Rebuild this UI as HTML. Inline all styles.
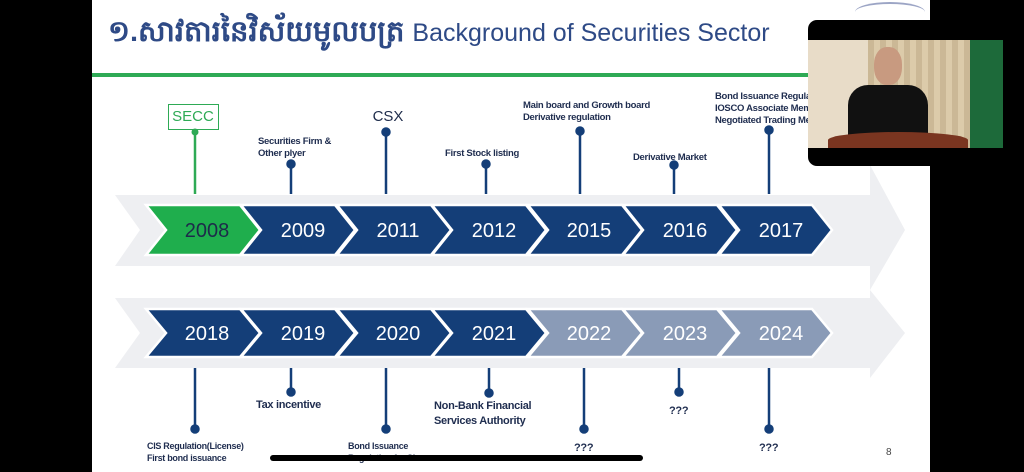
<!DOCTYPE html>
<html><head><meta charset="utf-8"><style>
body{margin:0;width:1024px;height:472px;background:#000;position:relative;overflow:hidden;font-family:"Liberation Sans",sans-serif}
.a{position:absolute}
.t{position:absolute;font-family:"Liberation Sans",sans-serif;font-weight:bold;font-size:9.5px;color:#1f2d4f;line-height:12px;white-space:nowrap;letter-spacing:-0.3px}
</style></head><body>
<div class="a" style="left:92px;top:0;width:838px;height:472px;background:#fff"></div>
<div class="a" style="left:108px;top:14px;font-size:29px;font-weight:bold;color:#2e4a86;white-space:nowrap;font-family:'Liberation Sans','DejaVu Sans',sans-serif">១.សាវតារនៃវិស័យមូលបត្រ <span style="font-size:25px;font-weight:normal">Background of Securities Sector</span></div>
<div class="a" style="left:92px;top:73px;width:740px;height:4px;background:#2eaa55"></div>
<svg class="a" style="left:0;top:0" width="1024" height="472">
<polygon points="115,195 870,195 870,165 905,230 870,290 870,266 115,266 140,230" fill="#eeeff2"/>
<polygon points="115,298 870,298 870,290 905,333 870,378 870,368 115,368 140,333" fill="#eeeff2"/>
<g font-family="Liberation Sans" font-size="20" fill="#fff" text-anchor="middle" stroke-linejoin="miter">
<g stroke="#fff" stroke-width="2.5">
<polygon points="146,205 240,205 260,230 240,255 146,255 166,230" fill="#1fae4d"/>
<polygon points="241,205 335,205 355,230 335,255 241,255 261,230" fill="#143e78"/>
<polygon points="337,205 431,205 451,230 431,255 337,255 357,230" fill="#143e78"/>
<polygon points="432,205 526,205 546,230 526,255 432,255 452,230" fill="#143e78"/>
<polygon points="528,205 622,205 642,230 622,255 528,255 548,230" fill="#143e78"/>
<polygon points="623,205 717,205 737,230 717,255 623,255 643,230" fill="#143e78"/>
<polygon points="719,205 812,205 832,230 812,255 719,255 739,230" fill="#143e78"/>
<polygon points="146,309 240,309 260,333 240,357 146,357 166,333" fill="#143e78"/>
<polygon points="241,309 335,309 355,333 335,357 241,357 261,333" fill="#143e78"/>
<polygon points="337,309 431,309 451,333 431,357 337,357 357,333" fill="#143e78"/>
<polygon points="432,309 526,309 546,333 526,357 432,357 452,333" fill="#143e78"/>
<polygon points="528,309 622,309 642,333 622,357 528,357 548,333" fill="#8a9bb7"/>
<polygon points="623,309 717,309 737,333 717,357 623,357 643,333" fill="#8a9bb7"/>
<polygon points="719,309 812,309 832,333 812,357 719,357 739,333" fill="#8a9bb7"/>
</g>
<text x="207" y="237" fill="#1d2b4a">2008</text>
<text x="303" y="237">2009</text><text x="398" y="237">2011</text><text x="494" y="237">2012</text>
<text x="589" y="237">2015</text><text x="685" y="237">2016</text><text x="781" y="237">2017</text>
<text x="207" y="340">2018</text><text x="303" y="340">2019</text><text x="398" y="340">2020</text>
<text x="494" y="340">2021</text><text x="589" y="340">2022</text><text x="685" y="340">2023</text><text x="781" y="340">2024</text>
</g>
<rect x="168.5" y="104.5" width="50" height="25" fill="none" stroke="#2eaa55"/>
<text x="193" y="121" font-family="Liberation Sans" font-size="15" fill="#2eaa55" text-anchor="middle">SECC</text>
<text x="388" y="121" font-family="Liberation Sans" font-size="15" fill="#1d2b4a" text-anchor="middle">CSX</text>
<g stroke-width="2.5">
<line x1="195" y1="132" x2="195" y2="194" stroke="#2eaa55"/><circle cx="195" cy="132" r="3.5" fill="#2eaa55"/>
<g stroke="#143e78" fill="#143e78">
<line x1="291" y1="164" x2="291" y2="194"/><circle cx="291" cy="164" r="3.5"/>
<line x1="386" y1="132" x2="386" y2="194"/><circle cx="386" cy="132" r="3.5"/>
<line x1="486" y1="164" x2="486" y2="194"/><circle cx="486" cy="164" r="3.5"/>
<line x1="580" y1="131" x2="580" y2="194"/><circle cx="580" cy="131" r="3.5"/>
<line x1="674" y1="165" x2="674" y2="194"/><circle cx="674" cy="165" r="3.5"/>
<line x1="769" y1="130" x2="769" y2="194"/><circle cx="769" cy="130" r="3.5"/>
<line x1="195" y1="368" x2="195" y2="429"/><circle cx="195" cy="429" r="3.5"/>
<line x1="291" y1="368" x2="291" y2="392"/><circle cx="291" cy="392" r="3.5"/>
<line x1="386" y1="368" x2="386" y2="429"/><circle cx="386" cy="429" r="3.5"/>
<line x1="489" y1="368" x2="489" y2="393"/><circle cx="489" cy="393" r="3.5"/>
<line x1="584" y1="368" x2="584" y2="429"/><circle cx="584" cy="429" r="3.5"/>
<line x1="679" y1="368" x2="679" y2="392"/><circle cx="679" cy="392" r="3.5"/>
<line x1="769" y1="368" x2="769" y2="429"/><circle cx="769" cy="429" r="3.5"/>
</g></g>
</svg>
<div class="t" style="left:258px;top:136px">Securities Firm &amp;<br>Other plyer</div>
<div class="t" style="left:445px;top:148px">First Stock listing</div>
<div class="t" style="left:523px;top:100px">Main board and Growth board<br>Derivative regulation</div>
<div class="t" style="left:633px;top:152px">Derivative Market</div>
<div class="t" style="left:715px;top:91px">Bond Issuance Regulation<br>IOSCO Associate Member<br>Negotiated Trading Method</div>
<div class="t" style="left:147px;top:440px;font-size:9px">CIS Regulation(License)<br>First bond issuance</div>
<div class="t" style="left:256px;top:399px;font-size:11px">Tax incentive</div>
<div class="t" style="left:348px;top:440px;font-size:9px">Bond Issuance<br>Regulation for SI</div>
<div class="t" style="left:434px;top:399px;font-size:11px;line-height:15px">Non-Bank Financial<br>Services Authority</div>
<div class="t" style="left:574px;top:442px;font-size:11px">???</div>
<div class="t" style="left:669px;top:405px;font-size:11px">???</div>
<div class="t" style="left:759px;top:442px;font-size:11px">???</div>
<div class="a" style="left:886px;top:447px;font-size:10px;color:#444">8</div>
<div class="a" style="left:270px;top:455px;width:373px;height:6px;background:#000;border-radius:3px"></div>
<div class="a" style="left:855px;top:2px;width:70px;height:18px;border-radius:50%;border-top:2px solid #5b6aa0;opacity:.6"></div>
<div class="a" style="left:808px;top:20px;width:195px;height:146px;background:#000;border-radius:9px;overflow:hidden">
 <div class="a" style="left:0;top:20px;width:195px;height:108px;background:#e8dcc8"></div>
 <div class="a" style="left:60px;top:20px;width:110px;height:108px;background:repeating-linear-gradient(90deg,#cbb896 0 6px,#dccbaa 6px 12px)"></div>
 <div class="a" style="left:162px;top:20px;width:33px;height:108px;background:#1d6a3a"></div>
 <div class="a" style="left:40px;top:65px;width:80px;height:55px;background:#111;border-radius:20px 20px 0 0"></div>
 <div class="a" style="left:66px;top:27px;width:28px;height:38px;background:#c89a80;border-radius:45%"></div>
 <div class="a" style="left:20px;top:112px;width:140px;height:16px;background:#7a3520;border-radius:60% 60% 0 0"></div>
</div>
</body></html>
